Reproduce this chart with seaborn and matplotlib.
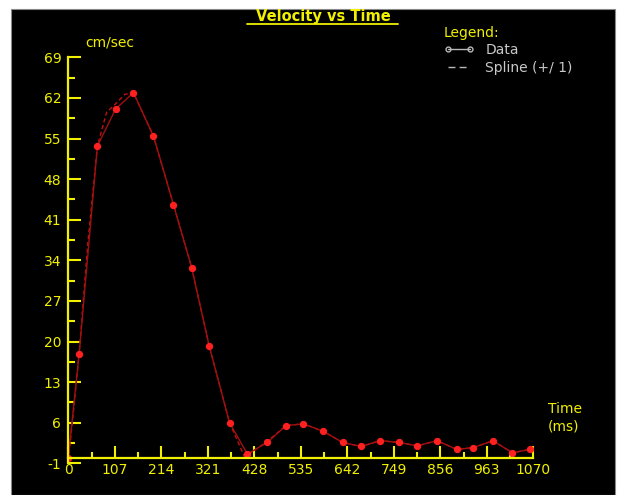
import numpy as np
import pandas as pd
import seaborn as sns
import matplotlib.pyplot as plt
from matplotlib.lines import Line2D
from matplotlib.patches import Rectangle

# velocity samples (ms, cm/sec)
t_ms = [0, 25, 67, 109, 150, 196, 242, 284, 324, 371, 412, 458, 501, 541,
        587, 631, 674, 717, 761, 803, 848, 894, 932, 977, 1022, 1062]
vel = [0, 17.9, 53.7, 60.1, 62.9, 55.4, 43.6, 32.7, 19.3, 6.0, 0.6, 2.6, 5.5, 5.8,
       4.5, 2.6, 1.9, 2.9, 2.6, 2.0, 2.9, 1.4, 1.7, 2.9, 0.8, 1.4]

# dashed spline curve (+/- 1)
spline_t = [0, 12, 25, 45, 67, 88, 109, 130, 150, 196, 242, 284, 324, 371, 405,
            428, 458, 501, 541, 587, 631, 674, 717, 761, 803, 848, 894, 932, 977, 1022, 1062]
spline_v = [-0.5, 8, 18, 37, 53.7, 59.5, 61.0, 62.6, 62.9, 55.4, 43.6, 32.7, 19.3, 6.0, 0.2,
            1.2, 2.8, 5.5, 5.8, 4.5, 2.6, 1.9, 2.9, 2.6, 2.0, 2.9, 1.4, 1.7, 2.9, 0.8, 1.4]

x_ticks = [0, 107, 214, 321, 428, 535, 642, 749, 856, 963, 1070]
x_labels = ["0", "107", "214", "321", "428", "535", "642", "749", "856", "963", "1070"]
y_ticks = [-1, 6, 13, 20, 27, 34, 41, 48, 55, 62, 69]

YEL = "#f0f000"

df = pd.DataFrame({"t": t_ms, "v": vel})
sp = pd.DataFrame({"t": spline_t, "v": spline_v})

sns.set_style("ticks")
plt.rcParams["font.family"] = ["DejaVu Sans"]
plt.rcParams["axes.unicode_minus"] = False

fig = plt.figure(figsize=(6.18, 4.95), dpi=100)
fig.patch.set_facecolor("white")
fig.add_artist(Rectangle((11 / 618, 0), 604 / 618, 486 / 495, transform=fig.transFigure,
                         facecolor="black", edgecolor="#888888", lw=0.8, zorder=0))

ax = fig.add_axes([68.3 / 618, (495 - 463.3) / 495, 465 / 618, 406 / 495])
ax.set_facecolor("none")

sns.lineplot(data=sp, x="t", y="v", ax=ax, color="#c01010", lw=1.0,
             linestyle=(0, (3, 2)), sort=False)
sns.lineplot(data=df, x="t", y="v", ax=ax, color="#a01010", lw=1.0, sort=False,
             marker="o", markersize=4.5, markerfacecolor="#ff2020", markeredgecolor="#ff2020")

ax.set_xlim(0, 1070)
ax.set_ylim(-1, 69)
ax.set_xticks(x_ticks)
ax.set_xticklabels(x_labels)
ax.set_xticks([x + 53.5 for x in x_ticks[:-1]], minor=True)
ax.set_yticks(y_ticks)
ax.set_yticks([y + 3.5 for y in y_ticks[:-1]], minor=True)
ax.set_xlabel("")
ax.set_ylabel("")

for s in ["top", "right"]:
    ax.spines[s].set_visible(False)
ax.spines["bottom"].set_position(("data", 0))
for s in ["left", "bottom"]:
    ax.spines[s].set_color(YEL)
    ax.spines[s].set_linewidth(1.6)

ax.tick_params(axis="y", which="major", direction="in", length=9.5, width=1.5,
               colors=YEL, labelsize=10, pad=5)
ax.tick_params(axis="y", which="minor", direction="in", length=5, width=1.5, colors=YEL)
ax.tick_params(axis="x", which="major", direction="in", length=8.5, width=1.5,
               colors=YEL, labelsize=10, pad=4)
ax.tick_params(axis="x", which="minor", direction="in", length=4.3, width=1.5, colors=YEL)

# titles and axis captions
fig.text(323 / 618, 1 - 16 / 495, "Velocity vs Time", color=YEL, fontsize=10.5,
         fontweight="bold", ha="center", va="center")
fig.add_artist(Line2D([247 / 618, 398 / 618], [1 - 24 / 495, 1 - 24 / 495],
                      transform=fig.transFigure, color=YEL, lw=1.3))
fig.text(85 / 618, 1 - 43 / 495, "cm/sec", color=YEL, fontsize=10, va="center")
fig.text(548 / 618, 1 - 409 / 495, "Time", color=YEL, fontsize=10, va="center")
fig.text(548 / 618, 1 - 426 / 495, "(ms)", color=YEL, fontsize=10, va="center")

# legend
handles = [Line2D([], [], color="#b8b8b8", lw=1, marker="o", markersize=3.5,
                  markerfacecolor="none", markeredgecolor="#b8b8b8"),
           Line2D([], [], color="#b8b8b8", lw=1, linestyle=(0, (5, 3)))]
leg = fig.legend(handles, ["Data", "Spline (+/ 1)"], loc="upper left",
                 bbox_to_anchor=(434 / 618, 1 - 16 / 495), frameon=False,
                 fontsize=10, labelcolor="#c8c8c8", numpoints=2, handlelength=2.2,
                 handletextpad=0.8, labelspacing=0.25, title="Legend:",
                 title_fontsize=10, alignment="left", borderpad=0.2)
leg.get_title().set_color(YEL)

fig.savefig("out.png", dpi=100, facecolor=fig.get_facecolor())
